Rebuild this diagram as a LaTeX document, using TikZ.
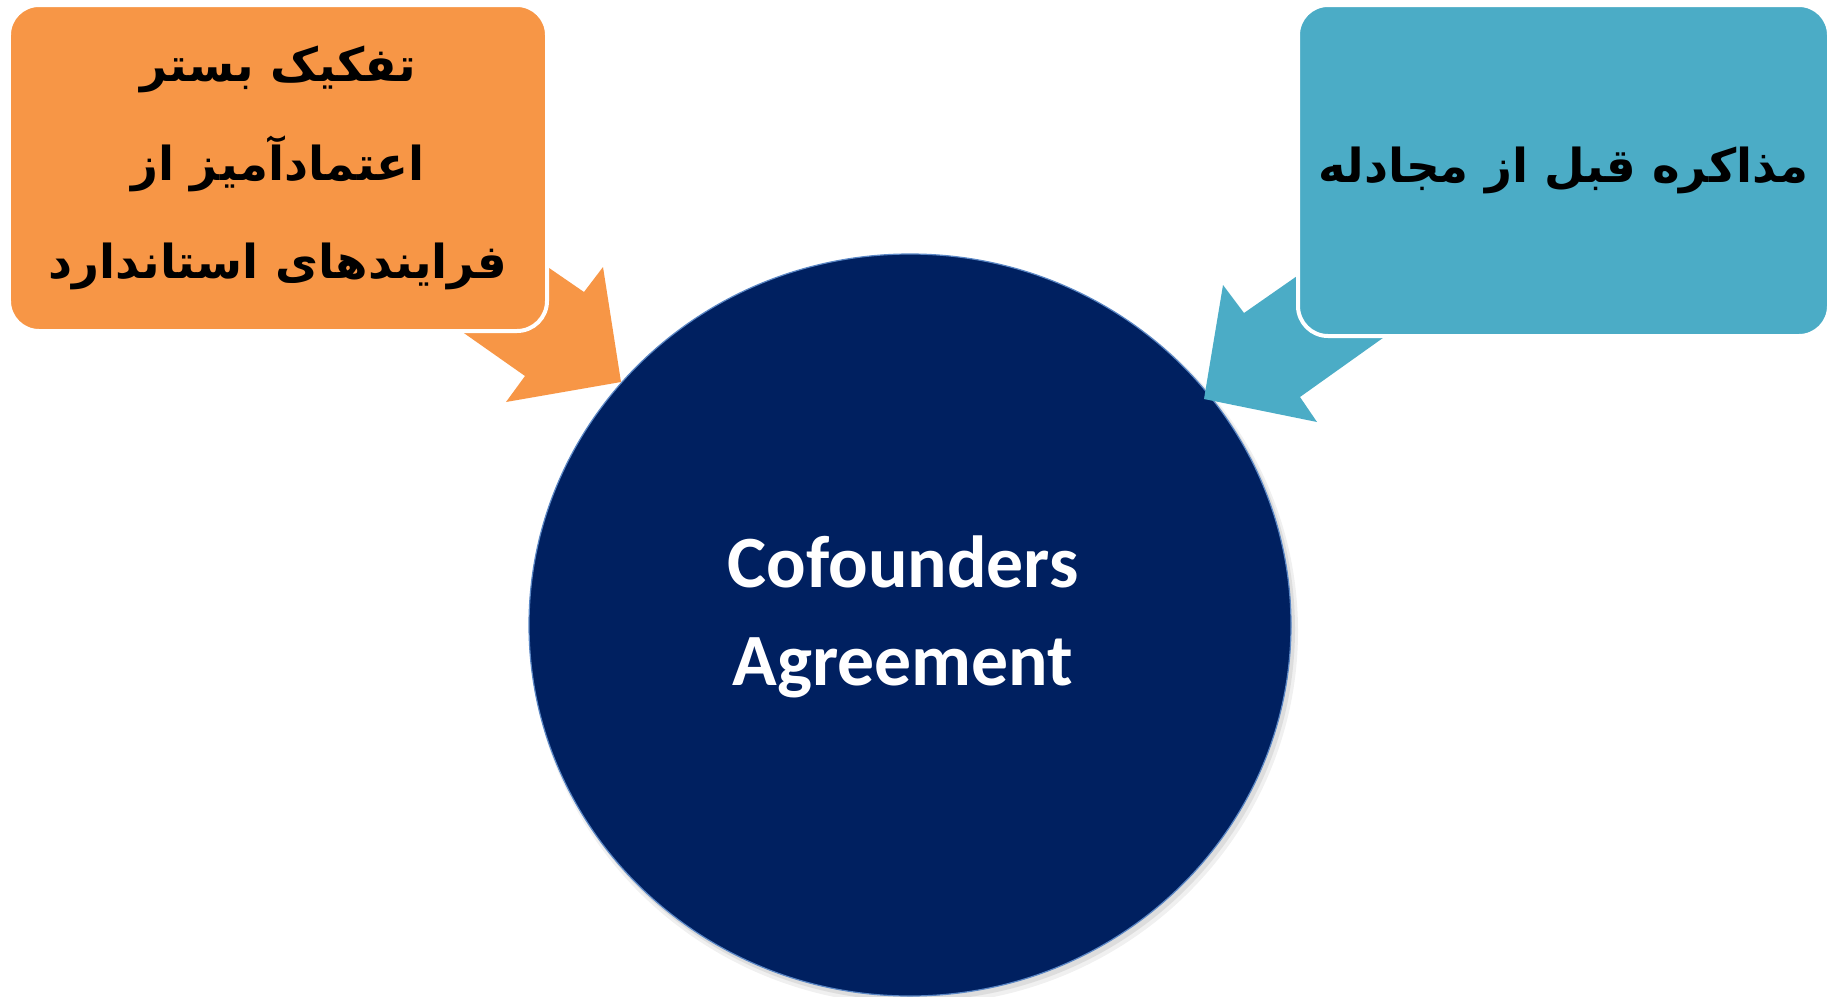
\documentclass[tikz,border=0pt]{standalone}
\usepackage{fontspec}
\setmainfont{Carlito}
\newfontfamily\fa[Script=Arabic]{DejaVu Sans}
\TeXXeTstate=1
\usetikzlibrary{shapes.geometric}
\definecolor{orangeA}{HTML}{F79646}
\definecolor{blueA}{HTML}{4BACC6}
\definecolor{navyA}{HTML}{002060}
\definecolor{rimA}{HTML}{5B87C5}
\tikzset{
  boxA/.style={rounded corners=30bp, draw=white, line width=4bp, inner sep=0pt,
    align=center, font=\fa\bfseries\fontsize{47}{99}\selectfont, text=black},
  hub/.style={ellipse, fill=navyA, draw=rimA, line width=1.2bp, inner sep=0pt,
    minimum width=762bp, minimum height=742bp},
  hubtext/.style={align=center, text=white, inner sep=0pt,
    font=\bfseries\fontsize{74}{99}\selectfont}
}
\begin{document}
\begin{tikzpicture}[x=1bp,y=-1bp]
\useasboundingbox (0,0) rectangle (1831,996);
% shadow of the hub
\fill[black, opacity=0.06] (914,631) ellipse [x radius=384, y radius=374];
\fill[black, opacity=0.08] (913,629) ellipse [x radius=382, y radius=372];
\node[hub] (hub) at (910,625) {};
\node[hubtext] (hubt) at (903,617) {Cofounders\\Agreement};
% arrow coordinates
\coordinate (oa1) at (504,237);
\coordinate (oa2) at (584,292);
\coordinate (oa3) at (603,267);
\coordinate (otip) at (621,382);
\coordinate (oa5) at (506,402);
\coordinate (oa6) at (525,376);
\coordinate (oa7) at (424,305);
\fill[orangeA] (oa1) -- (oa2) -- (oa3) -- (otip) -- (oa5) -- (oa6) -- (oa7) -- cycle;
\coordinate (ba1) at (1343,244);
\coordinate (ba2) at (1244,313);
\coordinate (ba3) at (1223,285);
\coordinate (btip) at (1204,399);
\coordinate (ba5) at (1317,422);
\coordinate (ba6) at (1300,397);
\coordinate (ba7) at (1425,308);
\fill[blueA] (ba1) -- (ba2) -- (ba3) -- (btip) -- (ba5) -- (ba6) -- (ba7) -- cycle;
% boxes
\node[boxA, fill=orangeA, minimum width=538bp, minimum height=326bp] (left) at (278,168)
  {\beginR تفکیک بستر\endR\\ \beginR اعتمادآمیز از\endR\\ \beginR فرایندهای استاندارد\endR};
\node[boxA, fill=blueA, minimum width=531bp, minimum height=331bp] (right) at (1563.5,170.5)
  {\beginR مذاکره قبل از مجادله\endR};
\end{tikzpicture}
\end{document}
